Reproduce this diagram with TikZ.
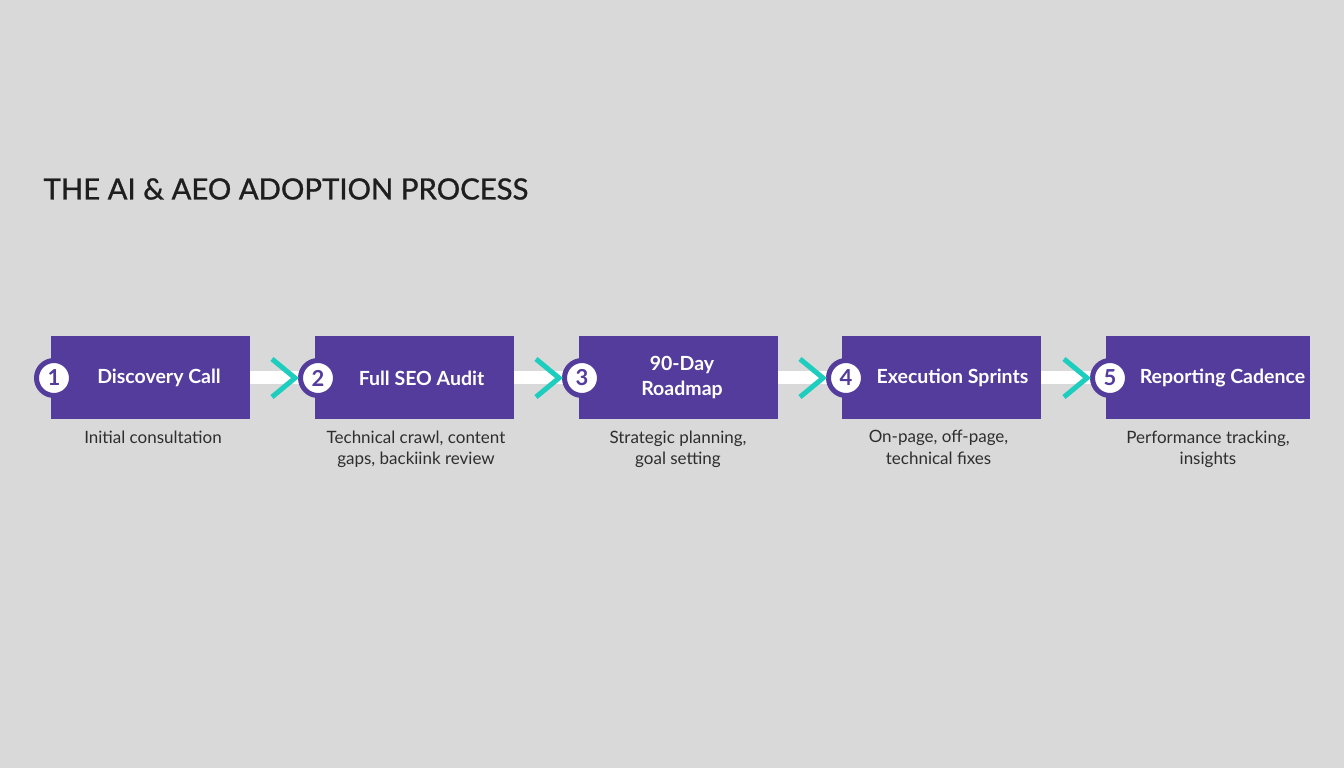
\documentclass[tikz,border=0pt]{standalone}
\usepackage{fontspec}
\setmainfont{Lato}
\definecolor{bg}{HTML}{D9D9D9}
\definecolor{pur}{HTML}{533C9C}
\definecolor{teal2}{HTML}{1DCDBE}
\definecolor{desc}{HTML}{2E2E2E}
\definecolor{ttl}{HTML}{1E1E1E}
\begin{document}
\begin{tikzpicture}[x=1pt,y=-1pt,
  stepbox/.style={rectangle,fill=pur,minimum width=199pt,minimum height=83pt,inner sep=0pt},
  numc/.style={circle,fill=white,draw=pur,line width=5pt,minimum size=35pt,inner sep=0pt,text=pur,font=\fontsize{22}{22}\selectfont\bfseries},
  lbl/.style={text=white,font=\fontsize{19.5}{25}\selectfont\bfseries,align=center},
  dsc/.style={text=desc,font=\fontsize{17}{21.5}\selectfont,align=center,anchor=north},
  bar/.style={draw=white,line width=13pt},
  chev/.style={draw=teal2,line width=5pt}]
\fill[bg] (0,0) rectangle (1344,768);
\useasboundingbox (0,0) rectangle (1344,768);
\node[anchor=west,text=ttl,font=\fontsize{29.3}{30}\selectfont\addfontfeatures{FakeBold=1}] (title) at (40,189) {THE AI \& AEO ADOPTION PROCESS};
% boxes
\node[stepbox] (b1) at (150.5,377.5) {};
\node[stepbox] (b2) at (414,377.5) {};
\node[stepbox] (b3) at (678,377.5) {};
\node[stepbox] (b4) at (941.5,377.5) {};
\node[stepbox,minimum width=204pt] (b5) at (1208,377.5) {};
% connectors
\draw[bar] (b1.east) -- (b2.west);
\draw[bar] (b2.east) -- (b3.west);
\draw[bar] (b3.east) -- (b4.west);
\draw[bar] (b4.east) -- (b5.west);
% circles
\node[numc] (c1) at (54,378) {1};
\node[numc] (c2) at (318,378) {2};
\node[numc] (c3) at (582,378) {3};
\node[numc] (c4) at (846,378) {4};
\node[numc] (c5) at (1110,378) {5};
% chevrons
\foreach \c in {c2,c3,c4,c5}{
  \draw[chev] ([shift={(-26,-19)}]\c.west) -- ([shift={(-3,0)}]\c.west) -- ([shift={(-26,19)}]\c.west);
}
% labels
\node[lbl] (l1) at (159,378) {Discovery Call};
\node[lbl] (l2) at (421.5,378) {Full SEO Audit};
\node[lbl] (l3) at (682,378) {90-Day\\Roadmap};
\node[lbl] (l4) at (952.5,378) {Execution Sprints};
\node[lbl] (l5) at (1222.5,378) {Reporting Cadence};
% descriptions
\node[dsc] (d1) at (153,427) {Initial consultation};
\node[dsc] (d2) at (416,427) {Technical crawl, content\\gaps, backiink review};
\node[dsc] (d3) at (678,427) {Strategic planning,\\goal setting};
\node[dsc] (d4) at (938.5,427) {On-page, off-page,\\technical fixes};
\node[dsc] (d5) at (1208,427) {Performance tracking,\\insights};
\end{tikzpicture}
\end{document}
